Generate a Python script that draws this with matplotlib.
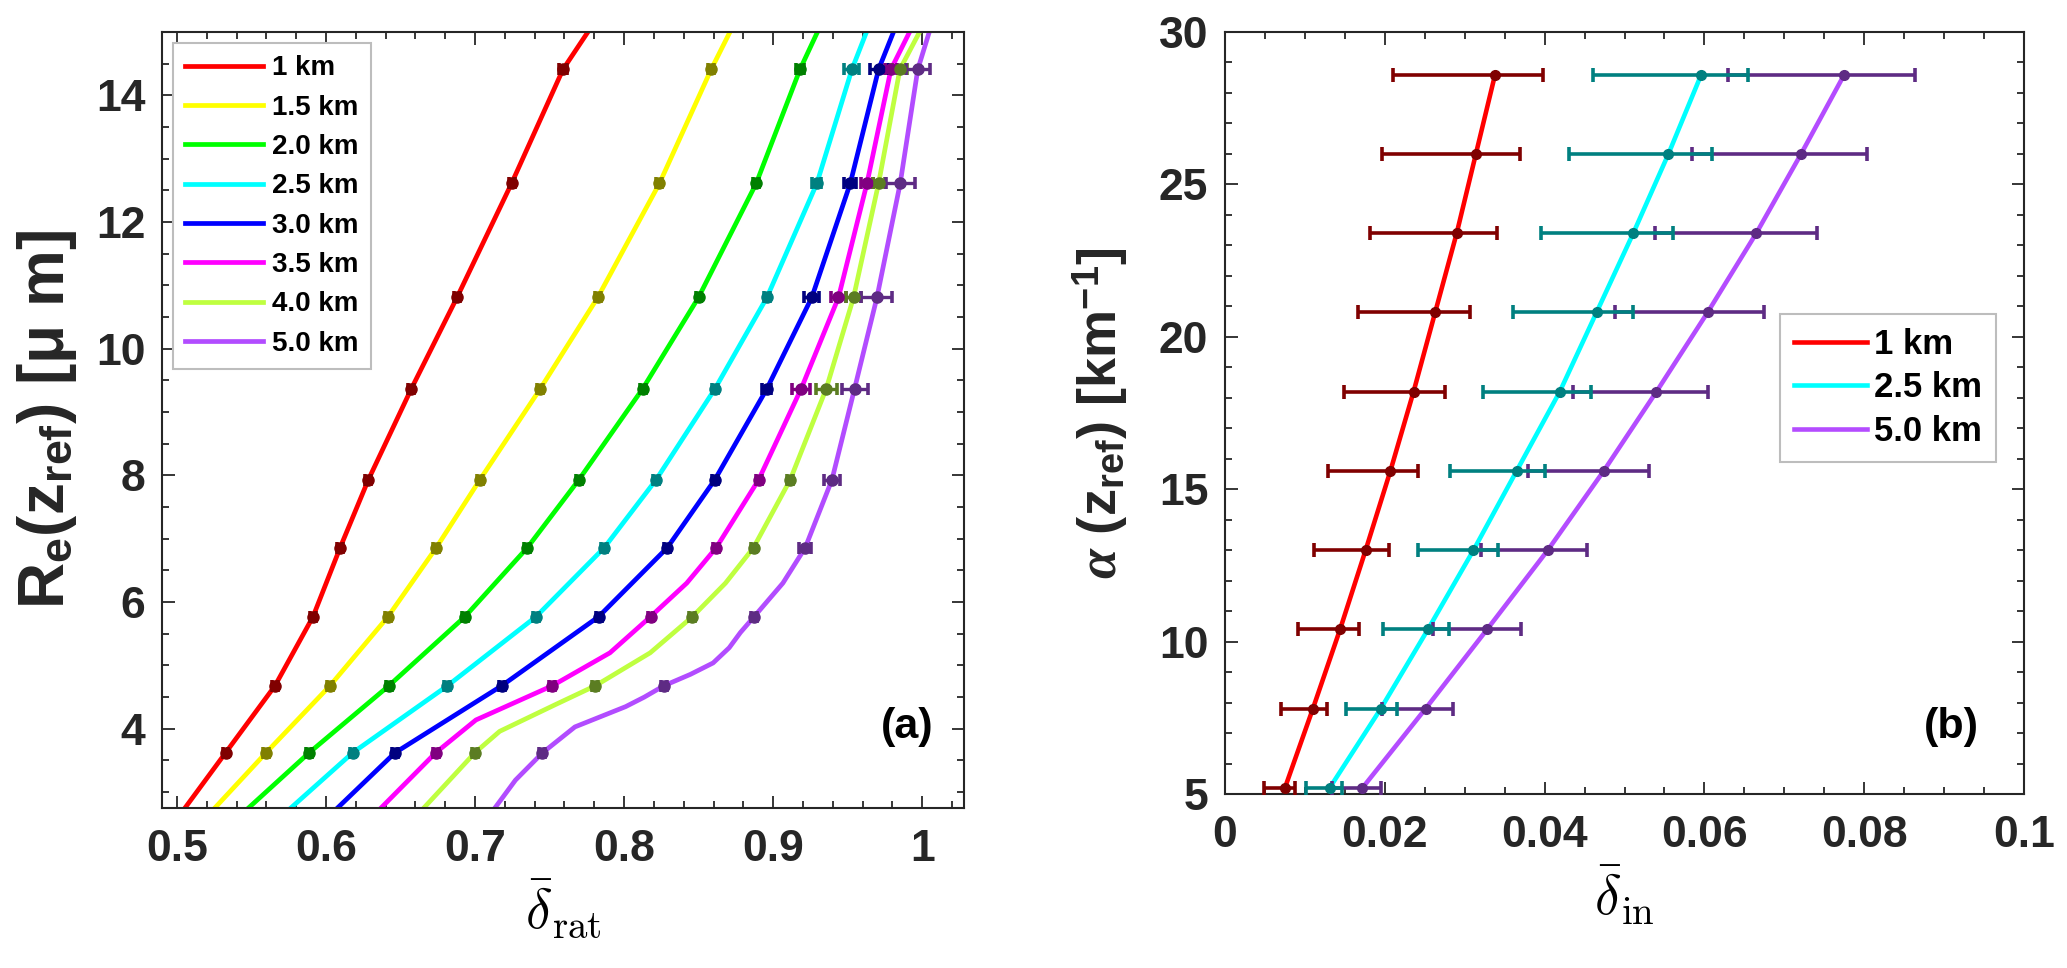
import numpy as np
import matplotlib
matplotlib.use("Agg")
import matplotlib.pyplot as plt
from matplotlib.ticker import MultipleLocator, FixedLocator, FixedFormatter

plt.rcParams['font.family'] = ['Liberation Sans', 'DejaVu Sans']
plt.rcParams['font.weight'] = 'bold'
plt.rcParams['axes.labelweight'] = 'bold'
plt.rcParams['mathtext.fontset'] = 'custom'
plt.rcParams['mathtext.rm'] = 'Liberation Sans:bold'
plt.rcParams['mathtext.bf'] = 'Liberation Sans:bold'
plt.rcParams['mathtext.it'] = 'Liberation Serif:italic'

# ---------------- panel (a) data ----------------
labels_a = ["1 km", "1.5 km", "2.0 km", "2.5 km", "3.0 km", "3.5 km", "4.0 km", "5.0 km"]
line_cols_a = ['#FF0000', '#FFFF00', '#00FF00', '#00FFFF', '#0000FF', '#FF00FF', '#BFFF40', '#B24CFF']
mark_cols_a = ['#800000', '#808000', '#008000', '#008080', '#000080', '#800080', '#5B7D22', '#5E2B84']

re_levels = [3.62, 4.68, 5.77, 6.86, 7.93, 9.37, 10.81, 12.61, 14.41]

d_1km = [0.5326, 0.5658, 0.5913, 0.6095, 0.6284, 0.6573, 0.6879, 0.7245, 0.759]
d_15km = [0.5597, 0.6027, 0.6416, 0.674, 0.7032, 0.7438, 0.7823, 0.8237, 0.8584]
d_20km = [0.5886, 0.6422, 0.6932, 0.7351, 0.7696, 0.8125, 0.8499, 0.8886, 0.918]
d_25km = [0.6178, 0.6815, 0.7409, 0.7867, 0.8214, 0.861, 0.8958, 0.9293, 0.9528]
d_30km = [0.6462, 0.7179, 0.7829, 0.829, 0.8608, 0.8958, 0.9259, 0.9517, 0.9707]
d_35km = [0.6735, 0.7518, 0.8177, 0.8618, 0.8902, 0.9188, 0.9438, 0.9629, 0.979]
d_40km = [0.6998, 0.7807, 0.8458, 0.8868, 0.9114, 0.9356, 0.9539, 0.9707, 0.985]
d_50km = [0.7452, 0.8267, 0.8872, 0.9215, 0.9394, 0.9546, 0.9696, 0.9852, 0.997]

e_1km = [0.002, 0.002, 0.002, 0.002, 0.002, 0.002, 0.002, 0.002, 0.003]
e_15km = [0.002, 0.002, 0.002, 0.002, 0.002, 0.002, 0.002, 0.002, 0.002]
e_20km = [0.002, 0.002, 0.002, 0.002, 0.002, 0.002, 0.002, 0.002, 0.003]
e_25km = [0.002, 0.002, 0.002, 0.002, 0.002, 0.002, 0.002, 0.003, 0.005]
e_30km = [0.002, 0.002, 0.002, 0.002, 0.002, 0.003, 0.005, 0.004, 0.006]
e_35km = [0.002, 0.002, 0.002, 0.002, 0.002, 0.006, 0.005, 0.004, 0.004]
e_40km = [0.002, 0.002, 0.002, 0.002, 0.002, 0.007, 0.005, 0.004, 0.005]
e_50km = [0.002, 0.002, 0.002, 0.004, 0.0055, 0.0087, 0.0104, 0.0097, 0.008]

# fitted curves (y, x)
curve_y_1km = [2.75, 3.62, 4.68, 5.77, 6.86, 7.93, 9.37, 10.81, 12.61, 14.41, 15.0]
curve_x_1km = [0.5054, 0.5326, 0.5658, 0.5913, 0.6095, 0.6284, 0.6573, 0.6879, 0.7245, 0.759, 0.7757]
curve_y_15km = [2.75, 3.62, 4.68, 5.77, 6.86, 7.93, 9.37, 10.81, 12.61, 14.41, 15.0]
curve_x_15km = [0.5254, 0.5597, 0.6027, 0.6416, 0.674, 0.7032, 0.7438, 0.7823, 0.8237, 0.8584, 0.871]
curve_y_20km = [2.75, 3.62, 4.68, 5.77, 6.86, 7.93, 9.37, 10.81, 12.61, 14.41, 15.0]
curve_x_20km = [0.548, 0.5886, 0.6422, 0.6932, 0.7351, 0.7696, 0.8125, 0.8499, 0.8886, 0.918, 0.9297]
curve_y_25km = [2.75, 3.62, 4.68, 5.77, 6.86, 7.93, 9.37, 10.81, 12.61, 14.41, 15.0]
curve_x_25km = [0.5764, 0.6178, 0.6815, 0.7409, 0.7867, 0.8214, 0.861, 0.8958, 0.9293, 0.9528, 0.9626]
curve_y_30km = [2.75, 3.62, 4.68, 5.77, 6.86, 7.93, 9.37, 10.81, 12.61, 14.41, 15.0]
curve_x_30km = [0.6077, 0.6462, 0.7179, 0.7829, 0.829, 0.8608, 0.8958, 0.9259, 0.9517, 0.9707, 0.9807]
curve_y_35km = [2.75, 3.62, 4.14, 4.68, 5.2, 5.77, 6.3, 6.86, 7.93, 9.37, 10.81, 12.61, 14.41, 15.0]
curve_x_35km = [0.6369, 0.6735, 0.7006, 0.7518, 0.7905, 0.8177, 0.842, 0.8618, 0.8902, 0.9188, 0.9438, 0.9629, 0.979, 0.9915]
curve_y_40km = [2.75, 3.62, 3.96, 4.38, 4.68, 5.2, 5.77, 6.3, 6.86, 7.93, 9.37, 10.81, 12.61, 14.41, 15.0]
curve_x_40km = [0.6656, 0.6998, 0.7165, 0.7537, 0.7807, 0.8175, 0.8458, 0.868, 0.8868, 0.9114, 0.9356, 0.9539, 0.9707, 0.985, 0.9982]
curve_y_50km = [2.75, 3.19, 3.62, 4.03, 4.19, 4.35, 4.5, 4.68, 4.86, 5.04, 5.28, 5.52, 5.77, 6.3, 6.86, 7.93, 9.37, 10.81, 12.61, 14.41, 15.0]
curve_x_50km = [0.7133, 0.7271, 0.7452, 0.767, 0.784, 0.801, 0.8135, 0.8267, 0.8445, 0.8597, 0.8705, 0.878, 0.8872, 0.9065, 0.9215, 0.9394, 0.9546, 0.9696, 0.9852, 0.997, 1.0047]

xt_a = [0.5, 0.6, 0.7, 0.8, 0.9, 1.0]
xt_a_labels = ['0.5', '0.6', '0.7', '0.8', '0.9', '1']
yt_a = [4, 6, 8, 10, 12, 14]

# ---------------- panel (b) data ----------------
labels_b = ["1 km", "2.5 km", "5.0 km"]
line_cols_b = ['#FF0000', '#00FFFF', '#B44CFF']
err_cols_b = ['#800000', '#008080', '#5E2B84']
alpha_ref = [5.2, 7.8, 10.4, 13.0, 15.6, 18.2, 20.8, 23.4, 26.0, 28.6]

din_1km = [0.0075, 0.011, 0.0144, 0.0176, 0.0207, 0.0236, 0.0263, 0.029, 0.0314, 0.0338]
din_1km_lo = [0.0049, 0.007, 0.0091, 0.0111, 0.0129, 0.0149, 0.0166, 0.0182, 0.0197, 0.021]
din_1km_hi = [0.0087, 0.0128, 0.0168, 0.0205, 0.0241, 0.0275, 0.0307, 0.034, 0.0369, 0.0398]
din_25km = [0.0131, 0.0195, 0.0254, 0.0311, 0.0365, 0.0419, 0.0465, 0.0511, 0.0555, 0.0596]
din_25km_lo = [0.0102, 0.0152, 0.0198, 0.0241, 0.0282, 0.0323, 0.0361, 0.0395, 0.043, 0.0461]
din_25km_hi = [0.0146, 0.0215, 0.028, 0.0342, 0.0401, 0.0458, 0.0511, 0.0561, 0.0609, 0.0654]
din_50km = [0.0172, 0.0251, 0.0328, 0.0404, 0.0474, 0.054, 0.0604, 0.0665, 0.0721, 0.0775]
din_50km_lo = [0.0134, 0.0196, 0.026, 0.0321, 0.0379, 0.0435, 0.0488, 0.0538, 0.0585, 0.063]
din_50km_hi = [0.0195, 0.0285, 0.0371, 0.0453, 0.0531, 0.0605, 0.0675, 0.0741, 0.0804, 0.0863]

xt_b = [0, 0.02, 0.04, 0.06, 0.08, 0.1]
xt_b_labels = ['0', '0.02', '0.04', '0.06', '0.08', '0.1']
yt_b = [5, 10, 15, 20, 25, 30]

W, H = 2067, 968
fig = plt.figure(figsize=(W / 100, H / 100), dpi=100)
ax1 = fig.add_axes([162 / W, 1 - 808 / H, (964 - 162) / W, 776 / H])
ax2 = fig.add_axes([1225 / W, 1 - 794 / H, (2024 - 1225) / W, 762 / H])

tick_col = '#262626'

def style_axes(ax):
    for s in ax.spines.values():
        s.set_color(tick_col)
        s.set_linewidth(1.5)
    ax.tick_params(which='both', direction='in', top=True, right=True,
                   colors=tick_col, width=1.3, labelsize=32)
    ax.tick_params(which='major', length=9)
    ax.tick_params(which='minor', length=5)
    ax.tick_params(axis='x', pad=15)
    ax.tick_params(axis='y', pad=12)

# ---- panel (a)
curves_x = [curve_x_1km, curve_x_15km, curve_x_20km, curve_x_25km,
            curve_x_30km, curve_x_35km, curve_x_40km, curve_x_50km]
curves_y = [curve_y_1km, curve_y_15km, curve_y_20km, curve_y_25km,
            curve_y_30km, curve_y_35km, curve_y_40km, curve_y_50km]
pts = [d_1km, d_15km, d_20km, d_25km, d_30km, d_35km, d_40km, d_50km]
errs = [e_1km, e_15km, e_20km, e_25km, e_30km, e_35km, e_40km, e_50km]

for i in range(8):
    ax1.plot(curves_x[i], curves_y[i], color=line_cols_a[i], lw=3.4,
             label=labels_a[i], zorder=2, solid_joinstyle='round')
for i in range(8):
    ax1.errorbar(pts[i], re_levels, xerr=errs[i], fmt='o', color=mark_cols_a[i],
                 ms=8, elinewidth=2.4, capsize=4.2, capthick=2.6, zorder=3)

ax1.set_xlim(0.49, 1.028)
ax1.set_ylim(2.75, 15)
ax1.xaxis.set_major_locator(FixedLocator(xt_a))
ax1.xaxis.set_major_formatter(FixedFormatter(xt_a_labels))
ax1.xaxis.set_minor_locator(MultipleLocator(0.02))
ax1.yaxis.set_major_locator(FixedLocator(yt_a))
ax1.yaxis.set_minor_locator(MultipleLocator(0.5))
style_axes(ax1)
ax1.set_ylabel('R$_\\mathrm{e}$(z$_\\mathrm{ref}$) [μ m]', fontsize=46,
               fontweight='bold', color=tick_col, labelpad=12)
ax1.set_xlabel(r'$\bar{\delta}_{\rm rat}$', fontsize=40, math_fontfamily='cm',
               labelpad=6)
leg1 = ax1.legend(loc='upper left', bbox_to_anchor=(0.0137, 0.986), borderaxespad=0,
                  fontsize=20, handlelength=2.8, handletextpad=0.3, labelspacing=0.48,
                  borderpad=0.45, fancybox=False, framealpha=1, edgecolor='#BDBDBD')
leg1.get_frame().set_linewidth(1.5)
ax1.text(0.929, 0.104, '(a)', transform=ax1.transAxes, fontsize=31,
         ha='center', va='center', color='black')

# ---- panel (b)
centers = [din_1km, din_25km, din_50km]
los = [din_1km_lo, din_25km_lo, din_50km_lo]
his = [din_1km_hi, din_25km_hi, din_50km_hi]
for i in range(3):
    ax2.plot(centers[i], alpha_ref, color=line_cols_b[i], lw=3.3, label=labels_b[i],
             zorder=2)
for i in [0, 2, 1]:
    c = np.array(centers[i])
    xerr = [c - np.array(los[i]), np.array(his[i]) - c]
    ax2.errorbar(c, alpha_ref, xerr=xerr, fmt='o', color=err_cols_b[i], ms=7,
                 elinewidth=2.6, capsize=5, capthick=2.6, zorder=3)

ax2.set_xlim(0, 0.1)
ax2.set_ylim(5, 30)
ax2.xaxis.set_major_locator(FixedLocator(xt_b))
ax2.xaxis.set_major_formatter(FixedFormatter(xt_b_labels))
ax2.xaxis.set_minor_locator(MultipleLocator(0.005))
ax2.yaxis.set_major_locator(FixedLocator(yt_b))
ax2.yaxis.set_minor_locator(MultipleLocator(1))
style_axes(ax2)
ax2.set_ylabel(r'$\alpha$ (z$_\mathrm{ref}$) [km$^\mathrm{-1}$]', fontsize=39,
               fontweight='bold', color=tick_col, labelpad=20)
ax2.set_xlabel(r'$\bar{\delta}_{\rm in}$', fontsize=40, math_fontfamily='cm',
               labelpad=6)
leg2 = ax2.legend(loc='upper left', bbox_to_anchor=(0.6946, 0.630), borderaxespad=0,
                  fontsize=25, handlelength=2.1, handletextpad=0.2, labelspacing=0.3,
                  borderpad=0.4, fancybox=False, framealpha=1, edgecolor='#BDBDBD')
leg2.get_frame().set_linewidth(1.5)
ax2.text(0.909, 0.088, '(b)', transform=ax2.transAxes, fontsize=31,
         ha='center', va='center', color='black')

fig.savefig('out.png', dpi=100)
